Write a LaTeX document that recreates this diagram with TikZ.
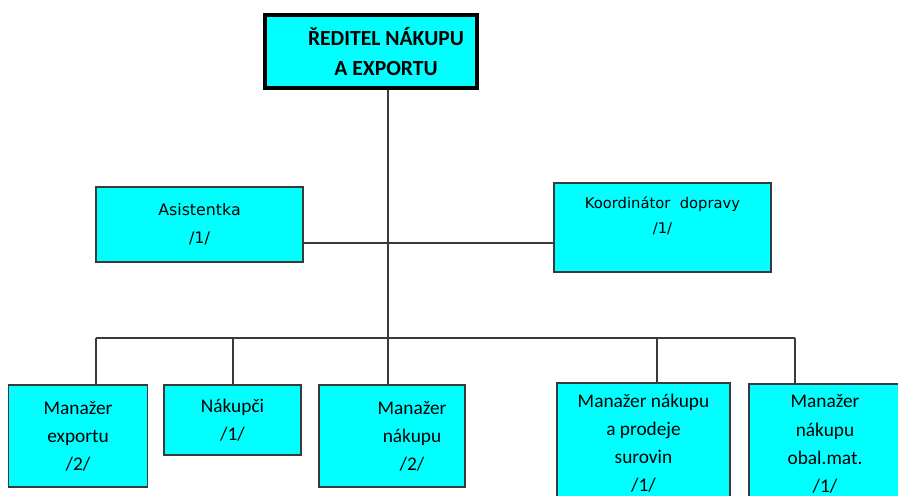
\documentclass[tikz,border=0pt]{standalone}
\usepackage{fontspec}
\setmainfont{Carlito}
\newfontfamily\tahfont{DejaVu Sans}
\definecolor{boxcyan}{HTML}{00FFFF}
\definecolor{edgegray}{HTML}{3A3A3A}

\tikzset{
  mbox/.style={draw=edgegray, line width=0.7pt, fill=boxcyan, inner sep=0pt,
               align=center, font=\fontsize{11}{16}\selectfont},
  sbox/.style={mbox, font=\tahfont\fontsize{8.4}{14}\selectfont},
  headbox/.style={draw=black, line width=2.2pt, fill=boxcyan, inner sep=0pt,
                  align=center, font=\bfseries\fontsize{12.3}{17}\selectfont},
  link/.style={draw=edgegray, line width=0.7pt}
}

\begin{document}
\begin{tikzpicture}[x=0.02cm, y=-0.02cm]
\useasboundingbox (0,0) rectangle (898,496);
\clip (0,0) rectangle (898,496);

%% vedeni
\node[headbox, minimum width=4.24cm, minimum height=1.46cm] (head) at (371,51.5)
  {\hspace*{0.6cm}ŘEDITEL NÁKUPU\\\hspace*{0.6cm}A EXPORTU};

%% stab
\node[sbox, minimum width=4.14cm, minimum height=1.5cm,
      font=\tahfont\fontsize{9}{16}\selectfont] (asist) at (199.5,224.5)
  {Asistentka\\/1/};
\node[sbox, minimum width=4.34cm, minimum height=1.78cm] (koord) at (662.5,227.5)
  {Koordinátor\ \ dopravy\\/1/\\\mbox{}};

%% liniove funkce
\node[mbox, minimum width=2.78cm, minimum height=2.04cm] (m1) at (78,436)
  {Manažer\\exportu\\/2/};
\node[mbox, minimum width=2.74cm, minimum height=1.4cm] (m2) at (232.5,420)
  {Nákupči\\/1/};
\node[mbox, minimum width=2.92cm, minimum height=2.04cm] (m3) at (392,436)
  {\hspace*{0.8cm}Manažer\\\hspace*{0.8cm}nákupu\\\hspace*{0.8cm}/2/};
\node[mbox, minimum width=3.46cm, minimum height=2.4cm] (m4) at (643.5,443)
  {Manažer nákupu\\a prodeje\\surovin\\/1/};
\node[mbox, minimum width=3.04cm, minimum height=2.4cm] (m5) at (825,444)
  {Manažer\\nákupu\\obal.mat.\\/1/};

%% spojnice
\coordinate (mid) at (388,243);
\coordinate (bus) at (388,338);
\draw[link] (head.south -| bus) -- (bus);
\draw[link] (mid -| asist.east) -- (mid -| koord.west);

\coordinate (d1) at (96,338);
\coordinate (d2) at (233,338);
\coordinate (d3) at (388,338);
\coordinate (d4) at (657,338);
\coordinate (d5) at (795,338);
\draw[link] (d1) -- (d5);
\draw[link] (d1) -- (d1 |- m1.north);
\draw[link] (d2) -- (d2 |- m2.north);
\draw[link] (d3) -- (d3 |- m3.north);
\draw[link] (d4) -- (d4 |- m4.north);
\draw[link] (d5) -- (d5 |- m5.north);
\end{tikzpicture}
\end{document}
